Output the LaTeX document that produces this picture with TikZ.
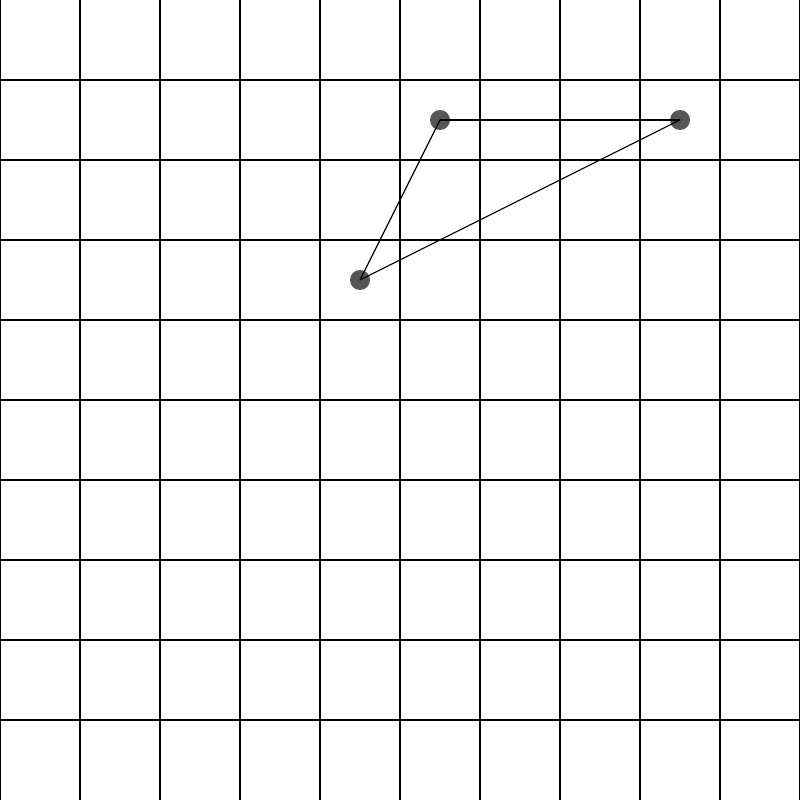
\documentclass[tikz,border=0pt]{standalone}
\begin{document}
\begin{tikzpicture}[x=1cm,y=1cm,
  gridline/.style={line width=0.75pt,black},
  dot/.style={circle,fill={rgb,255:red,85;green,85;blue,85},inner sep=0pt,minimum size=0.25cm},
  edge/.style={line width=0.4pt,black}]
\useasboundingbox (0,0) rectangle (10,10);
\foreach \i in {0,...,10} {\draw[gridline] (\i,0) -- (\i,10);}
\foreach \j in {1,...,9} {\draw[gridline] (0,\j) -- (10,\j);}
\node[dot] (a) at (5.5,8.5) {};
\node[dot] (b) at (8.5,8.5) {};
\node[dot] (c) at (4.5,6.5) {};
\draw[edge] (a.center) -- (b.center);
\draw[edge] (b.center) -- (c.center);
\draw[edge] (c.center) -- (a.center);
\end{tikzpicture}
\end{document}
